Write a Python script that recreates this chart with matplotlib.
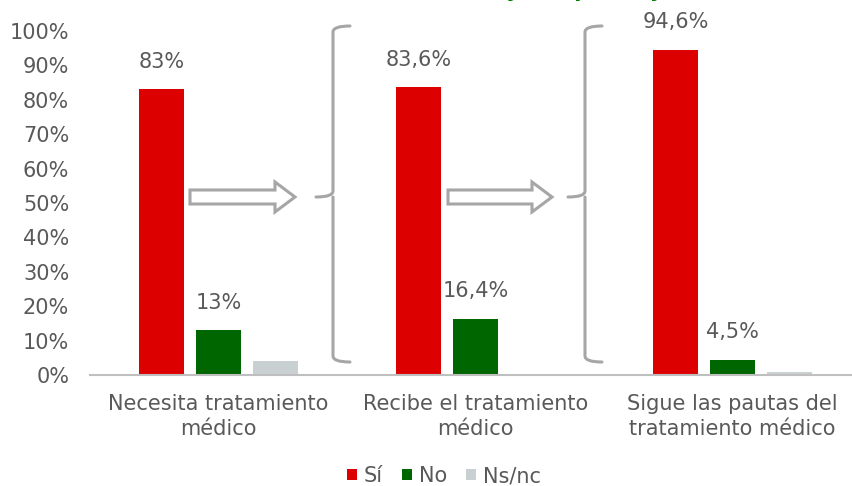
import matplotlib
matplotlib.use("Agg")
import matplotlib.pyplot as plt
import numpy as np
from matplotlib.path import Path
from matplotlib.patches import PathPatch, Polygon

plt.rcParams['font.family'] = ['DejaVu Sans']

categories = ["Necesita tratamiento\nmédico",
              "Recibe el tratamiento\nmédico",
              "Sigue las pautas del\ntratamiento médico"]
series_names = ["Sí", "No", "Ns/nc"]
si_values = [83.0, 83.6, 94.6]
no_values = [13.0, 16.4, 4.5]
nsnc_values = [4.0, 0.0, 0.8]
labelled = [True, True, False]
yticks = list(range(0, 101, 10))
title_text = "Necesidad de tratamiento médico y sus pasos y adherencia"
title_anchor = "Necesidad de tratamiento médico y"

colors = ["#DC0000", "#006600", "#C9D0D2"]
text_gray = "#595959"
deco_gray = "#A6A6A6"
FS = 15

W, H = 853, 486
fig = plt.figure(figsize=(W / 100, H / 100), dpi=100)
ax_left, ax_right, ax_bottom, ax_top = 90, 861, 375, 31
ax = fig.add_axes([ax_left / W, 1 - ax_bottom / H,
                   (ax_right - ax_left) / W, (ax_bottom - ax_top) / H])

x = np.arange(len(categories))
bar_w = 0.175
step = 0.222
all_series = [si_values, no_values, nsnc_values]


def fmt(v):
    if float(v).is_integer():
        return f"{int(v)}%"
    return f"{v:.1f}".replace(".", ",") + "%"


for i, (vals, name, col) in enumerate(zip(all_series, series_names, colors)):
    bars = ax.bar(x + (i - 1) * step, vals, width=bar_w, color=col, label=name)
    if labelled[i]:
        for b, v in zip(bars, vals):
            ax.annotate(fmt(v), (b.get_x() + b.get_width() / 2, v),
                        xytext=(0, 12.5), textcoords="offset points",
                        ha="center", va="bottom", fontsize=FS, color=text_gray)

ax.set_xlim(-0.5, 2.5)
ax.set_ylim(0, 100)
ax.set_yticks(yticks)
ax.set_yticklabels([f"{t}%" for t in yticks])
ax.set_xticks(x)
ax.set_xticklabels(categories, linespacing=1.3)
ax.tick_params(axis="both", length=0, labelsize=FS, labelcolor=text_gray)
ax.tick_params(axis="x", pad=14)
ax.tick_params(axis="y", pad=15)
for s in ["left", "right", "top"]:
    ax.spines[s].set_visible(False)
ax.spines["bottom"].set_color("#BFBFBF")
ax.spines["bottom"].set_linewidth(1.5)


# pixel -> data helpers for the decorations
def px(xp):
    return -0.5 + (xp - ax_left) / (ax_right - ax_left) * 3.0


def py(yp):
    return (ax_bottom - yp) / (ax_bottom - ax_top) * 100.0


def block_arrow(x0, x1, yc):
    shaft, head, hl = 7, 15, 20
    pts = [(x0, yc - shaft), (x1 - hl, yc - shaft), (x1 - hl, yc - head),
           (x1, yc), (x1 - hl, yc + head), (x1 - hl, yc + shaft), (x0, yc + shaft)]
    poly = Polygon([(px(a), py(b)) for a, b in pts], closed=True,
                   facecolor="white", edgecolor=deco_gray, linewidth=2.2,
                   clip_on=False, zorder=3)
    ax.add_patch(poly)


def brace(xb, ytop, ybot, ymid, tick, hook):
    r = 6
    upper = [(xb + hook, ytop), (xb, ytop), (xb, ytop + r),
             (xb, ymid - r), (xb, ymid), (xb - tick, ymid)]
    lower = [(xb, ymid), (xb, ymid + r), (xb, ybot - r),
             (xb, ybot), (xb + hook, ybot)]
    codes_u = [Path.MOVETO, Path.CURVE3, Path.CURVE3,
               Path.LINETO, Path.CURVE3, Path.CURVE3]
    codes_l = [Path.MOVETO, Path.LINETO, Path.LINETO,
               Path.CURVE3, Path.CURVE3]
    for verts, codes in ((upper, codes_u), (lower, codes_l)):
        path = Path([(px(a), py(b)) for a, b in verts], codes)
        ax.add_patch(PathPatch(path, facecolor="none", edgecolor=deco_gray,
                               linewidth=2.2, clip_on=False, zorder=3,
                               capstyle="round", joinstyle="round"))


block_arrow(190, 295, 197)
block_arrow(448, 552, 197)
brace(333, 26, 362, 197, 17, 17)
brace(585, 26, 362, 197, 17, 17)

fig.legend(loc="center", bbox_to_anchor=(444 / W, 1 - 476 / H), ncol=3,
           frameon=False, fontsize=FS, handlelength=0.48, handleheight=0.48,
           handletextpad=0.34, columnspacing=0.9, labelcolor=text_gray)

# title sits above the top edge; position it from the measured width of its start
renderer = fig.canvas.get_renderer()
title_kw = dict(fontsize=15, fontweight="bold", color="#008000", va="baseline")
probe = fig.text(0, 0, title_anchor, **title_kw)
probe_y = fig.text(0, 0, "y", **title_kw)
w_anchor = probe.get_window_extent(renderer).width
w_y = probe_y.get_window_extent(renderer).width
probe.remove()
probe_y.remove()
x_start = 513 + w_y / 2 - w_anchor
fig.text(x_start / W, 1 + 3 / H, title_text, ha="left", **title_kw)

fig.savefig("out.png", dpi=100)
